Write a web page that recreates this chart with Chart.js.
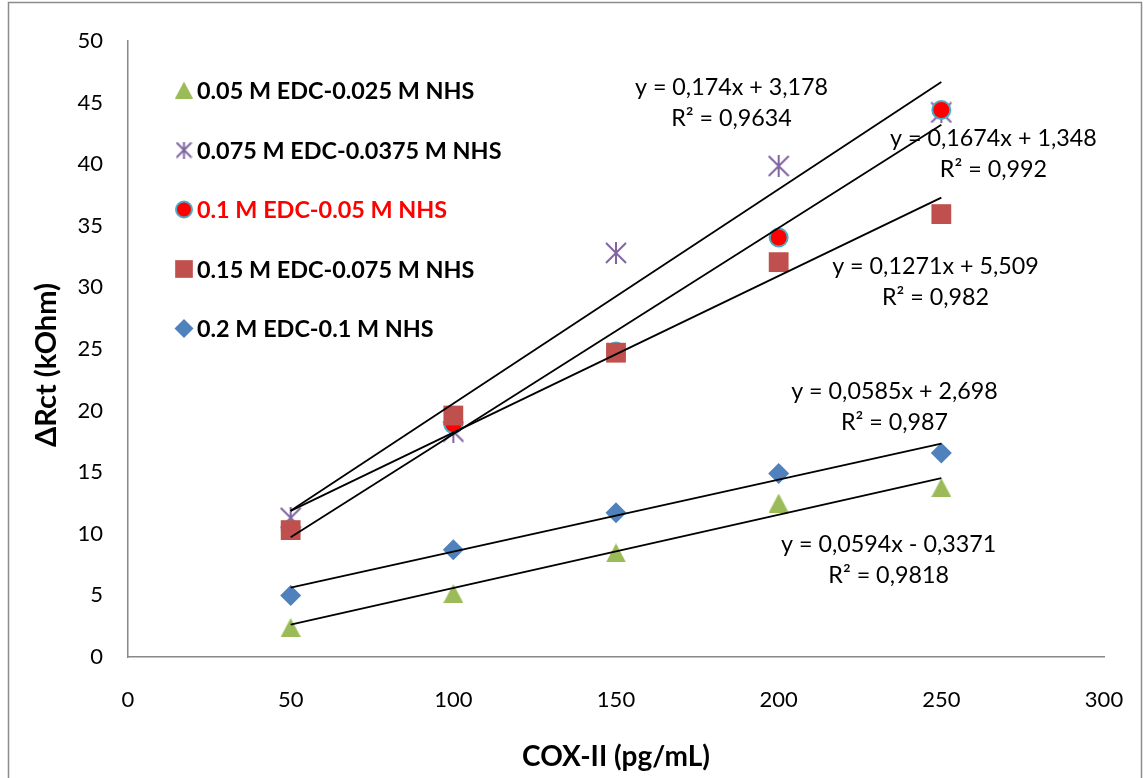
<!DOCTYPE html>
<html lang="en">
<head>
<meta charset="UTF-8">
<title>ΔRct vs COX-II</title>
<script src="https://cdn.jsdelivr.net/npm/chart.js"></script>
<style>
  body { margin: 0; background: #fff; }
  canvas { display: block; }
</style>
</head>
<body>
<canvas id="chart" width="1144" height="778"></canvas>
<script>
// COX-II concentration (pg/mL)
const cox = [50, 100, 150, 200, 250];

// ΔRct (kOhm) for each EDC/NHS ratio
const edc005 = [2.4, 5.15, 8.45, 12.5, 13.75];
const edc0075 = [11.3, 18.3, 32.8, 39.85, 44.2];
const edc01 = [10.3, 18.9, 24.8, 34.05, 44.4];
const edc015 = [10.3, 19.6, 24.7, 32.05, 35.95];
const edc02 = [5.0, 8.7, 11.7, 14.9, 16.55];

const seriesNames = [
  '0.05 M EDC-0.025 M NHS',
  '0.075 M EDC-0.0375 M NHS',
  '0.1 M EDC-0.05 M NHS',
  '0.15 M EDC-0.075 M NHS',
  '0.2 M EDC-0.1 M NHS'
];

// linear fits, same order as seriesNames
const fitSlopes = [0.0594, 0.174, 0.1674, 0.1271, 0.0585];
const fitIntercepts = [-0.3371, 3.178, 1.348, 5.509, 2.698];
const fitR2 = [0.9818, 0.9634, 0.992, 0.982, 0.987];

// where each fit equation is written (x, y in axis units, centre of first line)
const fitLabelAt = [[233.8, 9.17], [185.5, 46.2], [266.0, 42.05], [248.2, 31.66], [235.6, 21.59]];

const fmt = v => String(v).replace('.', ',');

// marker shapes that chart.js doesn't have
function triangleMarker(w, h, color) {
  const c = document.createElement('canvas');
  c.width = w; c.height = h;
  const g = c.getContext('2d');
  g.fillStyle = color;
  g.beginPath();
  g.moveTo(w / 2, 0);
  g.lineTo(w, h);
  g.lineTo(0, h);
  g.closePath();
  g.fill();
  return c;
}

function asteriskMarker(s, color) {
  const c = document.createElement('canvas');
  c.width = s; c.height = s;
  const g = c.getContext('2d');
  g.strokeStyle = color;
  g.lineWidth = 2;
  g.beginPath();
  g.moveTo(1, 1); g.lineTo(s - 1, s - 1);
  g.moveTo(s - 1, 1); g.lineTo(1, s - 1);
  g.moveTo(s / 2, 0); g.lineTo(s / 2, s);
  g.stroke();
  return c;
}

const markers = [
  { style: triangleMarker(20, 19, '#9bbb59'), legendStyle: triangleMarker(18, 17, '#9bbb59'), radius: 10, color: '#9bbb59', border: '#9bbb59', borderWidth: 0 },
  { style: asteriskMarker(22, '#8064a2'), legendStyle: asteriskMarker(17, '#8064a2'), radius: 11, color: '#8064a2', border: '#8064a2', borderWidth: 0 },
  { style: 'circle', legendStyle: 'circle', radius: 9, legendRadius: 8, color: '#ff0000', border: '#4bacc6', borderWidth: 2 },
  { style: 'rect', legendStyle: 'rect', radius: 14, legendRadius: 12.5, color: '#c0504d', border: '#c0504d', borderWidth: 0 },
  { style: 'rectRot', legendStyle: 'rectRot', radius: 10.5, legendRadius: 9.5, color: '#4f81bd', border: '#4f81bd', borderWidth: 0 }
];

const seriesValues = [edc005, edc0075, edc01, edc015, edc02];

const datasets = [];
seriesValues.forEach((vals, i) => {
  const m = markers[i];
  datasets.push({
    label: seriesNames[i],
    data: cox.map((x, j) => ({ x: x, y: vals[j] })),
    pointStyle: m.style,
    pointRadius: m.radius,
    backgroundColor: m.color,
    borderColor: m.border,
    borderWidth: m.borderWidth,
    showLine: false,
    order: 5 - i
  });
});

// trend lines from the fitted equations, across the measured range
fitSlopes.forEach((a, i) => {
  const b = fitIntercepts[i];
  const x0 = cox[0], x1 = cox[cox.length - 1];
  datasets.push({
    label: 'fit ' + seriesNames[i],
    data: [{ x: x0, y: a * x0 + b }, { x: x1, y: a * x1 + b }],
    showLine: true,
    borderColor: '#000',
    borderWidth: 1.8,
    pointRadius: 0,
    order: 0
  });
});

const textFont = '"Lato", "Open Sans", sans-serif';

const page = {
  id: 'page',
  beforeDraw(chart) {
    const ctx = chart.ctx;
    ctx.save();
    ctx.fillStyle = '#fff';
    ctx.fillRect(0, 0, chart.width, chart.height);
    ctx.strokeStyle = '#8c8c8c';
    ctx.lineWidth = 1.5;
    ctx.strokeRect(8.5, 2.5, 1133, 800);
    ctx.restore();
  }
};

const fitLabels = {
  id: 'fitLabels',
  afterDraw(chart) {
    const ctx = chart.ctx;
    const xs = chart.scales.x, ys = chart.scales.y;
    ctx.save();
    ctx.fillStyle = '#000';
    ctx.font = '23.3px ' + textFont;
    ctx.textAlign = 'center';
    ctx.textBaseline = 'middle';
    fitSlopes.forEach((a, i) => {
      const b = fitIntercepts[i];
      const px = xs.getPixelForValue(fitLabelAt[i][0]);
      const py = ys.getPixelForValue(fitLabelAt[i][1]);
      const eq = 'y = ' + fmt(a) + 'x ' + (b < 0 ? '-' : '+') + ' ' + fmt(Math.abs(b));
      ctx.fillText(eq, px, py);
      ctx.fillText('R² = ' + fmt(fitR2[i]), px, py + 31);
    });
    ctx.restore();
  }
};

const seriesKey = {
  id: 'seriesKey',
  afterDraw(chart) {
    const ctx = chart.ctx;
    const rows = [90, 150, 209.5, 269, 328.5];
    ctx.save();
    ctx.font = 'bold 23.4px ' + textFont;
    ctx.textAlign = 'left';
    ctx.textBaseline = 'middle';
    seriesNames.forEach((name, i) => {
      const m = markers[i];
      ctx.fillStyle = m.color;
      ctx.strokeStyle = m.border;
      ctx.lineWidth = m.borderWidth;
      Chart.helpers.drawPoint(ctx, {
        pointStyle: m.legendStyle,
        radius: m.legendRadius || m.radius,
        rotation: 0,
        borderWidth: m.borderWidth
      }, 184, rows[i]);
      ctx.fillStyle = i === 2 ? '#ff0000' : '#000';
      ctx.fillText(name, 197, rows[i] + 1);
    });
    ctx.restore();
  }
};

const yTitle = {
  id: 'yTitle',
  afterDraw(chart) {
    const ctx = chart.ctx;
    ctx.save();
    ctx.translate(47, 365);
    ctx.rotate(-Math.PI / 2);
    ctx.fillStyle = '#000';
    ctx.font = 'bold 29px ' + textFont;
    ctx.textAlign = 'center';
    ctx.textBaseline = 'middle';
    ctx.fillText('ΔRct (kOhm)', 0, 0);
    ctx.restore();
  }
};

new Chart(document.getElementById('chart'), {
  type: 'scatter',
  data: { datasets: datasets },
  options: {
    responsive: false,
    animation: false,
    layout: { padding: { top: 41, right: 40, bottom: 0, left: 0 } },
    plugins: {
      legend: { display: false },
      tooltip: { enabled: false }
    },
    scales: {
      x: {
        min: 0, max: 300,
        grid: { display: false, drawTicks: false },
        border: { display: true, color: '#888', width: 1.5 },
        ticks: { stepSize: 50, padding: 30, color: '#000', font: { family: textFont, size: 22 } },
        title: {
          display: true,
          text: 'COX-II (pg/mL)',
          color: '#000',
          font: { family: textFont, size: 28, weight: 'bold' },
          padding: { top: 0, bottom: 4 }
        },
        afterFit(scale) {
          scale.height = 121;
          scale.paddingLeft = 0;
          scale.paddingRight = 0;
        }
      },
      y: {
        min: 0, max: 50,
        grid: { display: false, drawTicks: false },
        border: { display: true, color: '#888', width: 1.5 },
        ticks: { stepSize: 5, padding: 25, color: '#000', font: { family: textFont, size: 22 } },
        afterFit(scale) { scale.width = 128; }
      }
    }
  },
  plugins: [page, fitLabels, seriesKey, yTitle]
});
</script>
</body>
</html>
